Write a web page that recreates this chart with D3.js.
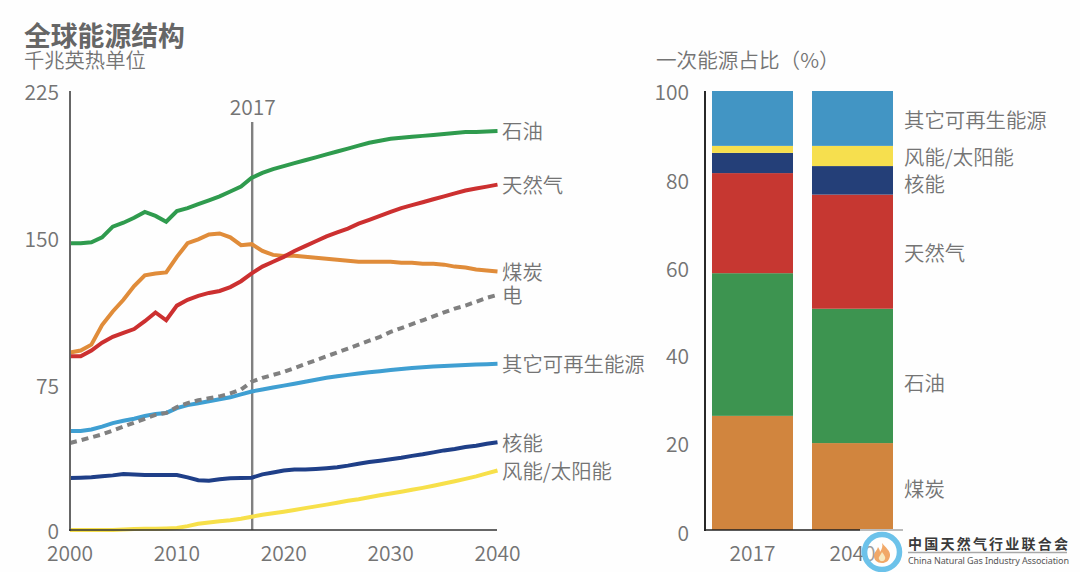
<!DOCTYPE html>
<html><head><meta charset="utf-8">
<script src="https://cdnjs.cloudflare.com/ajax/libs/d3/7.8.5/d3.min.js"></script>
<style>html,body{margin:0;padding:0;background:#fefefe}svg{display:block}text{font-family:"Noto Sans CJK SC","Noto Sans",sans-serif}</style>
</head><body><svg id="c" width="1080" height="572"></svg>
<script>
const years = d3.range(2000, 2041);
const oil = [147,147,147.5,150,155.5,157.5,160,163,161,158,163.5,165,167,169,171,173.5,176,180.5,183,185,186.5,188,189.5,191,192.5,194,195.5,197,198.5,199.5,200.5,201,201.5,202,202.5,203,203.5,204,204,204.3,204.5];
const gas = [89,89,92,96,99,101,103,107,111.5,107.5,115,118,120,121.5,122.5,124.5,127.5,131.5,135,137.5,140,143,145.5,148,150.5,152.5,154.5,157,159,161,163,165,166.5,168,169.5,171,172.5,174,175,176,177];
const coal = [91,92,95,105,112,118,125,130.5,131.5,132,140,147,149,151.5,152,150,146,146.5,143,141,140.5,140.5,140,139.5,139,138.5,138,137.5,137.5,137.5,137.5,137,137,136.5,136.5,136,135,134.5,133.5,133,132.5];
const electricity = [44.6,46,47.5,49,51,53,55,57,59,60,63,65,66.5,67.5,68.5,70,72,76,78,79.5,81,83,85,87,89,91,93,95,97,99,101.5,103.5,105.5,107.5,109.5,111.5,113.5,115,117,119,120.5];
const otherRenew = [50.7,50.7,51.5,53,54.8,56,57,58.4,59.5,60,62.5,64,65,66,67,68,69.5,71,72,73,74,75,76,77,78,78.8,79.5,80.2,80.8,81.4,82,82.5,83,83.4,83.8,84,84.3,84.6,84.8,85,85.2];
const nuclear = [26.6,26.8,27,27.5,28,28.7,28.5,28.2,28.2,28.2,28.2,27,25.5,25.2,26,26.5,26.7,26.8,28.5,29.5,30.5,31,31,31.3,31.7,32.2,33,34,34.8,35.5,36.3,37,38,38.8,39.8,40.8,41.5,42.5,43.2,44.2,45];
const windSolar = [0,0,0,0,0,0.3,0.5,0.6,0.7,0.8,1,2,3.2,3.8,4.5,5,5.8,6.8,7.8,8.6,9.4,10.3,11.2,12.1,13,14,15,15.8,16.8,17.8,18.7,19.6,20.6,21.6,22.7,23.8,25,26.2,27.5,29,30.5];

const lineSeries = [
  {name:"风能/太阳能", v:windSolar, color:"#f7e04a"},
  {name:"核能", v:nuclear, color:"#1f3f88"},
  {name:"其它可再生能源", v:otherRenew, color:"#3f9fd2"},
  {name:"电", v:electricity, color:"#808080", dash:"7 5"},
  {name:"煤炭", v:coal, color:"#e08c3a"},
  {name:"天然气", v:gas, color:"#cc3030"},
  {name:"石油", v:oil, color:"#2f9b4e"}
];
const yTicks = [0,75,150,225];
const xTicks = [2000,2010,2020,2030,2040];

const barYears = ["2017","2040"];
const stackKeys = ["煤炭","石油","天然气","核能","风能/太阳能","其它可再生能源"];
const share2017 = [26,32.5,22.8,4.6,1.6,12.5];
const share2040 = [19.8,30.6,26.0,6.5,4.6,12.5];
const barColors = ["#d1853e","#3d9450","#c63731","#243f78","#f6df4e","#4295c4"];
const percentTicks = [0,20,40,60,80,100];
const labelNudge = [1,6,0,3,0,1];

const ink = "#747474";
const svg = d3.select("#c");
const x = d3.scaleLinear().domain([2000,2040]).range([70,497.5]);
const y = d3.scaleLinear().domain([0,225]).range([530,91]);

function txt(t,px,py,size,anchor,weight){
  return svg.append("text").attr("x",px).attr("y",py).attr("font-size",size)
    .attr("text-anchor",anchor||"start").attr("dominant-baseline","central")
    .attr("fill",ink).attr("font-weight",weight||350).text(t);
}
txt("全球能源结构",24,34.5,26.8,"start",700).attr("fill","#666");
txt("千兆英热单位",24,59,20.3);
txt("一次能源占比（%）",656,59,20.6);

yTicks.forEach(d=>txt(d,59,y(d)+(d==225?0:d==0?0:1),21,"end"));
xTicks.forEach(d=>txt(d,x(d),551.5,21,"middle"));

svg.append("line").attr("x1",x(2017)+.5).attr("x2",x(2017)+.5).attr("y1",122).attr("y2",530)
  .attr("stroke","#808080").attr("stroke-width",2.4);
txt("2017",x(2017)+1,106,21,"middle");

const line = d3.line().x((d,i)=>x(years[i])).y(d=>y(d)).curve(d3.curveLinear);
lineSeries.forEach(s=>{
  svg.append("path").attr("d",line(s.v)).attr("fill","none").attr("stroke",s.color)
    .attr("stroke-width",4).attr("stroke-dasharray",s.dash||null);
  txt(s.name,502,y(s.v[s.v.length-1])-0.5,20.4);
});

svg.append("line").attr("x1",70).attr("x2",70).attr("y1",91).attr("y2",531)
  .attr("stroke","#666").attr("stroke-width",2);
svg.append("line").attr("x1",69).attr("x2",497).attr("y1",530).attr("y2",530)
  .attr("stroke","#333").attr("stroke-width",1.6);

const bx = d3.scaleBand().domain(barYears).range([712,893]).paddingInner(0.19).paddingOuter(0);
const by = d3.scaleLinear().domain([0,100]).range([530,91]);
const rows = barYears.map((yr,i)=>{
  const src = i?share2040:share2017, r={year:yr};
  stackKeys.forEach((k,j)=>r[k]=src[j]); return r;
});
const stacked = d3.stack().keys(stackKeys)(rows);
stacked.forEach((layer,j)=>{
  svg.append("g").selectAll("rect").data(layer).join("rect")
    .attr("x",d=>bx(d.data.year)).attr("width",bx.bandwidth())
    .attr("y",d=>by(d[1])).attr("height",d=>by(d[0])-by(d[1]))
    .attr("fill",barColors[j]);
  const d40 = layer[1];
  txt(stackKeys[j],904,by((d40[0]+d40[1])/2)+labelNudge[j],20.4);
});
percentTicks.forEach(d=>txt(d,689,by(d)+(d==100?0:d==0?2:1),21,"end"));
barYears.forEach(d=>txt(d,bx(d)+bx.bandwidth()/2,551.5,21,"middle"));
svg.append("line").attr("x1",705).attr("x2",705).attr("y1",91).attr("y2",531)
  .attr("stroke","#111").attr("stroke-width",1.8);
svg.append("line").attr("x1",704).attr("x2",862).attr("y1",530).attr("y2",530)
  .attr("stroke","#222").attr("stroke-width",1.6);
svg.append("line").attr("x1",860).attr("x2",903).attr("y1",530).attr("y2",530)
  .attr("stroke","#bbb").attr("stroke-width",2);

const logo = svg.append("g");
logo.append("circle").attr("cx",882).attr("cy",552).attr("r",17.5).attr("fill","#fff").attr("fill-opacity",.3)
  .attr("stroke","#6cc2ea").attr("stroke-width",5.5);
logo.append("path").attr("d","M882 543C885 547 891 551 890 556C889 561 886 563 882 563C877 563 874 560 874 556C874 552 877 551 878 547C879 549 880 550 880 552C882 549 883 546 882 543Z").attr("fill","#ef9f58").attr("fill-opacity",.9);
logo.append("path").attr("d","M882 552C884 555 886 557 885 559C884 562 880 562 879 559C878 557 881 555 882 552Z").attr("fill","#f7e9c0");
svg.append("text").attr("x",908).attr("y",543).attr("dominant-baseline","central").attr("font-size",14)
  .attr("font-weight",700).attr("textLength",160).attr("lengthAdjust","spacing").attr("fill","#3a3a3a").text("中国天然气行业联合会");
svg.append("line").attr("x1",908).attr("x2",1067).attr("y1",552.5).attr("y2",552.5).attr("stroke","#a8a8a8").attr("stroke-width",1.5);
svg.append("text").attr("x",908).attr("y",560.5).attr("dominant-baseline","central").attr("font-size",9)
  .attr("textLength",161).attr("lengthAdjust","spacing").attr("fill","#555").style("font-family","'Noto Sans',sans-serif").text("China Natural Gas Industry Association");
</script></body></html>
